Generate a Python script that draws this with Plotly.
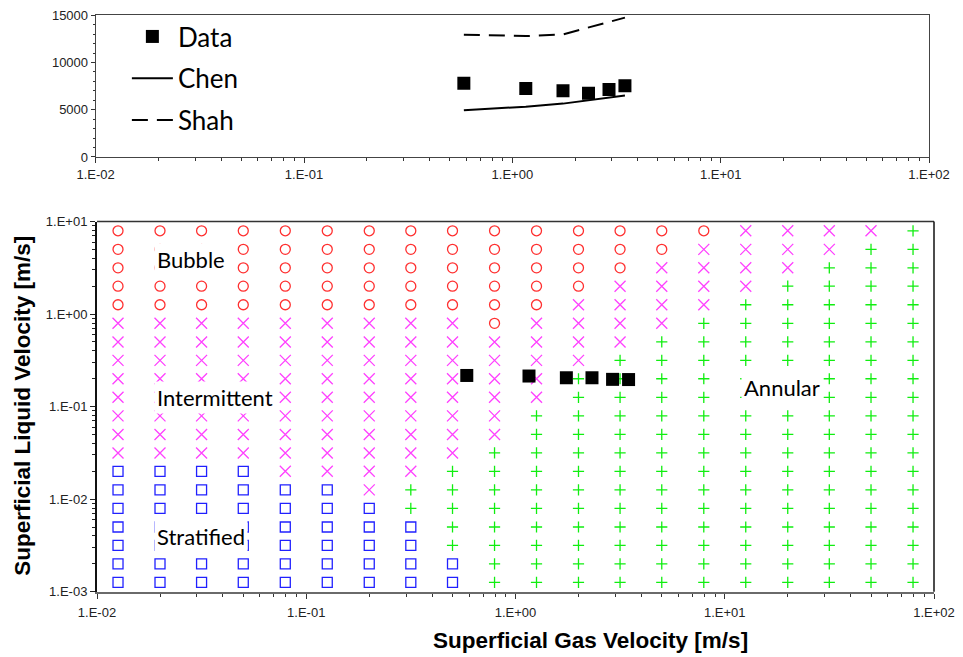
import math
import plotly.graph_objects as go

# Grid of superficial velocities used for the flow-regime map [m/s]
gas_grid = [0.0126, 0.02, 0.0316, 0.05, 0.0794, 0.126, 0.2, 0.316, 0.5, 0.794,
            1.26, 2.0, 3.16, 5.0, 7.94, 12.6, 20.0, 31.6, 50.0, 79.4]
liquid_grid = [7.94, 5.0, 3.16, 2.0, 1.26, 0.794, 0.5, 0.316, 0.2, 0.126,
               0.0794, 0.05, 0.0316, 0.02, 0.0126, 0.00794, 0.005, 0.00316, 0.002, 0.00126]

# Predicted regime per grid cell, one string per liquid velocity (top row first)
# B = Bubble, I = Intermittent, S = Stratified, A = Annular
regime_rows = [
    "BBBBBBBBBBBBBBBIIIIA",
    "BBBBBBBBBBBBBBIIIIAA",
    "BBBBBBBBBBBBBIIIIAAA",
    "BBBBBBBBBBBBIIIIAAAA",
    "BBBBBBBBBBBIIIIAAAAA",
    "IIIIIIIIIBIIIIAAAAAA",
    "IIIIIIIIIIIIIAAAAAAA",
    "IIIIIIIIIIIIAAAAAAAA",
    "IIIIIIIIIIIAAAAAAAAA",
    "IIIIIIIIIIIAAAAAAAAA",
    "IIIIIIIIIIAAAAAAAAAA",
    "IIIIIIIIIIAAAAAAAAAA",
    "IIIIIIIIIAAAAAAAAAAA",
    "SSSSIIIIAAAAAAAAAAAA",
    "SSSSSSIAAAAAAAAAAAAA",
    "SSSSSSSAAAAAAAAAAAAA",
    "SSSSSSSSAAAAAAAAAAAA",
    "SSSSSSSSAAAAAAAAAAAA",
    "SSSSSSSSSAAAAAAAAAAA",
    "SSSSSSSSSAAAAAAAAAAA",
]

# Experimental test conditions
exp_gas_velocity = [0.585, 1.16, 1.75, 2.32, 2.91, 3.47]
exp_liquid_velocity = [0.217, 0.214, 0.205, 0.205, 0.197, 0.196]
htc_data = [7800, 7250, 7000, 6750, 7150, 7550]
htc_chen = [4950, 5330, 5650, 6000, 6280, 6520]
htc_shah = [12950, 12800, 12980, 13700, 14250, 14750]

decade_vals = [0.01, 0.1, 1, 10, 100]
decade_text = ["1.E-02", "1.E-01", "1.E+00", "1.E+01", "1.E+02"]
liq_decade_vals = [0.001, 0.01, 0.1, 1, 10]
liq_decade_text = ["1.E-03", "1.E-02", "1.E-01", "1.E+00", "1.E+01"]
htc_ticks = [0, 5000, 10000, 15000]

gas_minor = [m * 10.0 ** k for k in range(-2, 2) for m in range(2, 10)]
liq_minor = [m * 10.0 ** k for k in range(-3, 1) for m in range(2, 10)]

regime_styles = {
    "B": dict(symbol="circle-open", size=10, color="#ff3030"),
    "I": dict(symbol="x-thin-open", size=11, color="#ff40ff"),
    "S": dict(symbol="square-open", size=10, color="#2020ff"),
    "A": dict(symbol="cross-thin-open", size=8, color="#10ee10"),
}

fig = go.Figure()

# Top panel: heat transfer coefficient
fig.add_trace(go.Scatter(
    x=exp_gas_velocity, y=htc_data, mode="markers", name="Data",
    legendgroup="d", xaxis="x", yaxis="y",
    marker=dict(symbol="square", size=13, color="black"),
))
fig.add_trace(go.Scatter(
    x=exp_gas_velocity, y=htc_chen, mode="lines", name="Chen",
    legendgroup="c", xaxis="x", yaxis="y",
    line=dict(color="black", width=2),
))
fig.add_trace(go.Scatter(
    x=exp_gas_velocity, y=htc_shah, mode="lines", name="Shah",
    legendgroup="s", xaxis="x", yaxis="y",
    line=dict(color="black", width=2, dash="16px,9px"),
))

# Bottom panel: flow-regime map
for code, style in regime_styles.items():
    xs, ys = [], []
    for row, ul in zip(regime_rows, liquid_grid):
        for ch, ug in zip(row, gas_grid):
            if ch == code:
                xs.append(ug)
                ys.append(ul)
    fig.add_trace(go.Scatter(
        x=xs, y=ys, mode="markers", showlegend=False, xaxis="x2", yaxis="y2",
        marker=dict(symbol=style["symbol"], size=style["size"], color=style["color"],
                    line=dict(color=style["color"], width=1.3)),
    ))

fig.add_trace(go.Scatter(
    x=exp_gas_velocity, y=exp_liquid_velocity, mode="markers", showlegend=False,
    xaxis="x2", yaxis="y2",
    marker=dict(symbol="square", size=13, color="black"),
))

tick_font = dict(family="Liberation Sans, Arial", size=13, color="#222222")

fig.update_layout(
    width=963, height=657,
    margin=dict(l=95, r=23, t=8, b=65),
    paper_bgcolor="white", plot_bgcolor="white",
    showlegend=True,
    legend=dict(
        x=0.038, y=1.0034, xanchor="left", yanchor="top",
        font=dict(family="Lato", size=26, color="black"),
        bgcolor="rgba(0,0,0,0)", borderwidth=0,
        itemwidth=41, tracegroupgap=5, itemclick=False,
    ),
    xaxis=dict(
        type="log", range=[-2, 2], domain=[0.0008, 0.9941], anchor="y",
        tickvals=decade_vals, ticktext=decade_text, tickfont=tick_font,
        ticks="outside", ticklen=5, tickcolor="#333333",
        minor=dict(tickvals=gas_minor, ticks="outside", ticklen=3, tickcolor="#333333", showgrid=False),
        showgrid=False, zeroline=False,
        showline=True, linecolor="#444444", linewidth=1, mirror=True,
    ),
    yaxis=dict(
        range=[0, 15000], domain=[0.7539, 0.9995], anchor="x",
        tickvals=htc_ticks, tickformat="d", tickfont=tick_font,
        ticks="outside", ticklen=4, tickcolor="#333333",
        minor=dict(dtick=1000, ticks="outside", ticklen=2, tickcolor="#333333", showgrid=False),
        showgrid=False, zeroline=False,
        showline=True, linecolor="#444444", linewidth=1, mirror=True,
    ),
    xaxis2=dict(
        type="log", range=[-2, 2], domain=[0.0024, 1.0], anchor="y2",
        tickvals=decade_vals, ticktext=decade_text, tickfont=tick_font,
        ticks="outside", ticklen=5, tickcolor="#333333", ticklabelstandoff=3,
        minor=dict(tickvals=gas_minor, ticks="outside", ticklen=3, tickcolor="#333333", showgrid=False),
        showgrid=False, zeroline=False,
        showline=True, linecolor="#6a6a6a", linewidth=2,
    ),
    yaxis2=dict(
        type="log", range=[-3, 1], domain=[0.0005, 0.6421], anchor="x2",
        tickvals=liq_decade_vals, ticktext=liq_decade_text, tickfont=tick_font,
        ticks="outside", ticklen=5, tickcolor="#222222",
        minor=dict(tickvals=liq_minor, ticks="outside", ticklen=3, tickcolor="#222222", showgrid=False),
        showgrid=False, zeroline=False,
        showline=True, linecolor="#111111", linewidth=2,
    ),
    shapes=[
        dict(type="line", xref="x2 domain", yref="y2 domain", x0=0, x1=1, y0=1, y1=1,
             line=dict(color="#333333", width=1.3)),
        dict(type="line", xref="x2 domain", yref="y2 domain", x0=1, x1=1, y0=0, y1=1,
             line=dict(color="#111111", width=1.5)),
    ],
)

label_font = dict(family="Lato", size=22, color="black")
region_labels = [
    ("Bubble", 0.0188, 3.93),
    ("Intermittent", 0.0188, 0.126),
    ("Stratified", 0.0188, 0.00399),
    ("Annular", 11.9, 0.161),
]
for text, ug, ul in region_labels:
    fig.add_annotation(
        text=text, x=math.log10(ug), y=math.log10(ul), xref="x2", yref="y2",
        xanchor="left", yanchor="middle", showarrow=False,
        font=label_font, bgcolor="white", borderpad=2,
    )

axis_title_font = dict(family="Liberation Sans, Arial", size=22.5, color="black")
fig.add_annotation(
    text="<b>Superficial Gas Velocity [m/s]</b>", xref="paper", yref="paper",
    x=0.5905, y=-0.0848, xanchor="center", yanchor="middle", showarrow=False,
    font=axis_title_font,
)
fig.add_annotation(
    text="<b>Superficial Liquid Velocity [m/s]</b>", xref="paper", yref="paper",
    x=-0.0864, y=0.322, xanchor="center", yanchor="middle", showarrow=False,
    textangle=-90, font=axis_title_font,
)

fig.write_html("out.html")
